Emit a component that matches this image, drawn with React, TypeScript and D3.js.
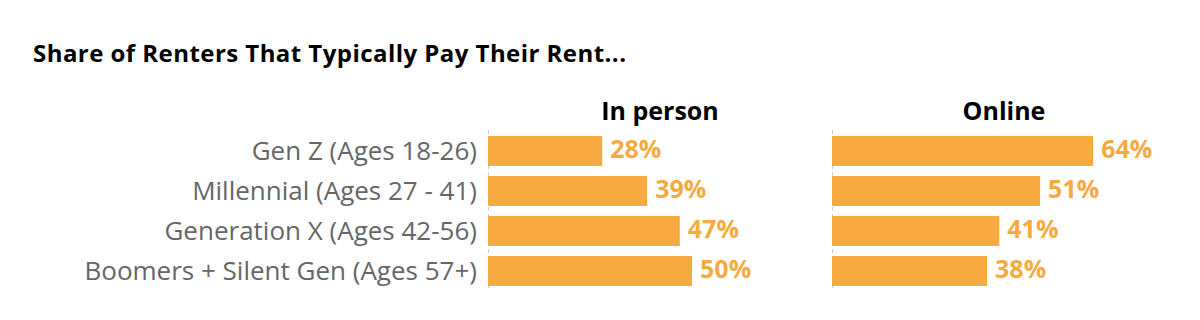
import React from "react";
import * as d3 from "d3";

const categories = [
  "Gen Z (Ages 18-26)",
  "Millennial (Ages 27 - 41)",
  "Generation X (Ages 42-56)",
  "Boomers + Silent Gen (Ages 57+)",
];
const inPerson = [28, 39, 47, 50];
const online = [64, 51, 41, 38];
const panelTitles = ["In person", "Online"];
const title = "Share of Renters That Typically Pay Their Rent...";

const W = 1200;
const H = 320;
const FONT = "'Open Sans', 'Noto Sans', sans-serif";
const ORANGE = "#F7AA3F";

export default function App() {
  const panelW = 344;
  const panelX = [488, 832];
  const x = d3.scaleLinear().domain([0, 84.3]).range([0, panelW]);
  const y = d3
    .scaleBand<string>()
    .domain(categories)
    .range([131, 291])
    .paddingInner(0.25)
    .paddingOuter(0.125);
  const series = [inPerson, online];

  return (
    <svg
      width={W}
      height={H}
      style={{ position: "absolute", left: 0, top: 0, background: "#fff" }}
      fontFamily={FONT}
    >
      <text x={33} y={62} fontSize={24} fontWeight={700} letterSpacing={0.45} fill="#000">
        {title}
      </text>
      {categories.map((c) => (
        <text
          key={c}
          x={477}
          y={(y(c) as number) + y.bandwidth() / 2 + 8.5}
          textAnchor="end"
          fontSize={26}
          fill="#666"
        >
          {c}
        </text>
      ))}
      {series.map((vals, si) => (
        <g key={si} transform={`translate(${panelX[si]},0)`}>
          <text
            x={panelW / 2}
            y={120}
            textAnchor="middle"
            fontSize={25}
            fontWeight={700}
            fill="#000"
          >
            {panelTitles[si]}
          </text>
          <line
            x1={0.5}
            x2={0.5}
            y1={130}
            y2={289}
            stroke="#ccc"
            strokeWidth={1}
            strokeDasharray="4,3"
          />
          {vals.map((v, i) => {
            const c = categories[i];
            const yy = y(c) as number;
            return (
              <g key={c}>
                <rect x={0} y={yy} width={x(v)} height={y.bandwidth()} fill={ORANGE} />
                <text
                  x={x(v) + 8}
                  y={yy + y.bandwidth() / 2 + 6.5}
                  fontSize={25}
                  fontWeight={700}
                  fill={ORANGE}
                >
                  {v}%
                </text>
              </g>
            );
          })}
        </g>
      ))}
    </svg>
  );
}
